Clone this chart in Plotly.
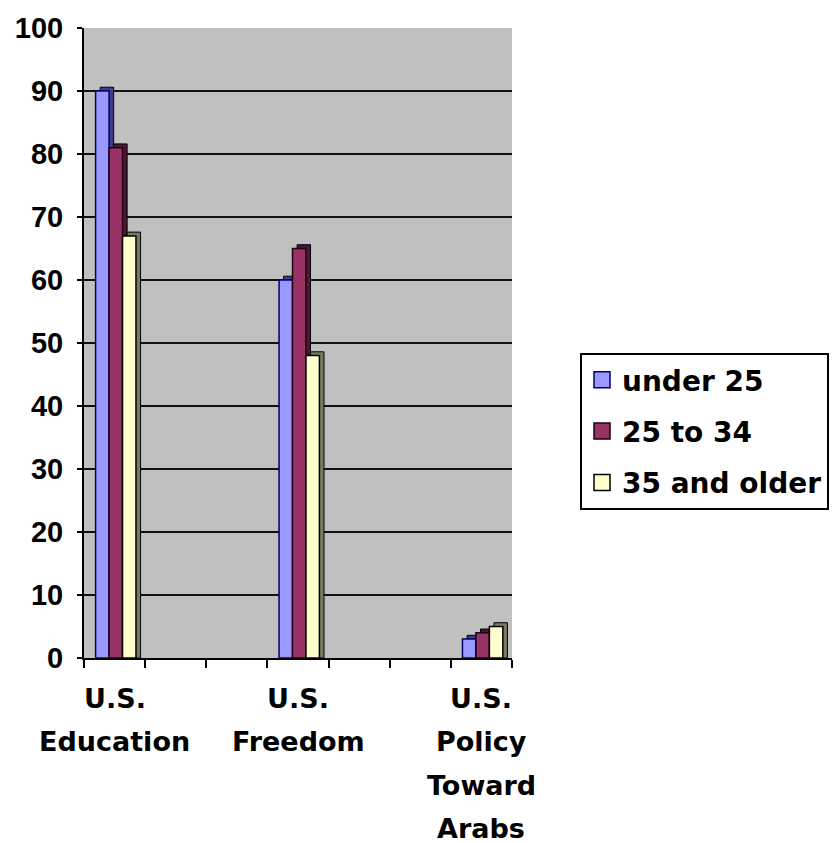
import plotly.graph_objects as go

# ---- data ----
categories = [["U.S.", "Education"], ["U.S.", "Freedom"], ["U.S.", "Policy", "Toward", "Arabs"]]
series_names = ["under 25", "25 to 34", "35 and older"]
under_25 = [90, 60, 3]
age_25_34 = [81, 65, 4]
age_35_up = [67, 48, 5]
y_ticks = [0, 10, 20, 30, 40, 50, 60, 70, 80, 90, 100]

series_values = [under_25, age_25_34, age_35_up]

# ---- styles ----
face_colors = ["#9999FF", "#993366", "#FFFFCC"]
side_colors = ["#3d3d8a", "#4a1830", "#7a7a62"]
edge_colors = ["#000066", "#1a0010", "#000000"]

SLOTS = 7          # category slots on the axis (labels sit in slots 0, 3, 6)
SLOT_STEP = 3
W = 0.22           # bar front width (axis units)
START = -0.31      # offset of first bar from slot centre
DX = 0.075         # 3D depth, horizontal
DY = 0.6           # 3D depth, vertical

xpos = [i * SLOT_STEP for i in range(len(categories))]

fig = go.Figure()
for i, (name, vals) in enumerate(zip(series_names, series_values)):
    off = START + i * W
    fig.add_trace(go.Bar(
        x=xpos, y=[v + DY for v in vals], width=W, offset=off + DX,
        marker=dict(color=side_colors[i], line=dict(color="#000000", width=1)),
        showlegend=False, hoverinfo="skip"))
    fig.add_trace(go.Bar(
        x=xpos, y=vals, width=W, offset=off, name=name,
        marker=dict(color=face_colors[i], line=dict(color=edge_colors[i], width=1.5)),
        showlegend=False))
    # legend entry
    fig.add_trace(go.Scatter(
        x=[None], y=[None], mode="markers", name=name, legendgroup=name,
        marker=dict(symbol="square", size=18, color=face_colors[i],
                    line=dict(color=edge_colors[i], width=1.5))))

# category labels (multi-line, wide line spacing)
LINE_GAP = 43.5
for xp, lines in zip(xpos, categories):
    for j, t in enumerate(lines):
        fig.add_annotation(
            x=xp, y=0, xref="x", yref="paper", text=t, showarrow=False,
            xanchor="center", yanchor="middle", yshift=-(40 + LINE_GAP * j),
            font=dict(family="DejaVu Sans", size=27, color="black", weight="bold"))

fig.update_layout(
    width=838, height=843,
    margin=dict(l=84, r=326, t=28, b=185, autoexpand=False),
    paper_bgcolor="white", plot_bgcolor="#C0C0C0",
    barmode="overlay",
    legend=dict(
        x=(580 - 84) / 428, y=(658 - 353) / 630, xanchor="left", yanchor="top",
        bgcolor="white", bordercolor="black", borderwidth=2,
        font=dict(family="DejaVu Sans", size=28, color="black", weight="bold"),
        tracegroupgap=12, itemsizing="trace"),
    xaxis=dict(
        range=[-0.5, SLOTS - 0.5], tickmode="linear", tick0=-0.5, dtick=1,
        ticks="outside", ticklen=8, tickwidth=2, tickcolor="black",
        showticklabels=False, showgrid=False, zeroline=False,
        showline=True, linecolor="black", linewidth=2),
    yaxis=dict(
        range=[0, 100], tickvals=y_ticks, ticktext=[str(v) for v in y_ticks],
        ticks="outside", ticklen=5, tickwidth=2, tickcolor="black",
        ticklabelstandoff=8,
        tickfont=dict(family="Liberation Sans", size=29, color="black", weight="bold"),
        showgrid=True, gridcolor="#111111", gridwidth=1.5, zeroline=False,
        showline=True, linecolor="black", linewidth=2),
)

fig.write_html("out.html")
